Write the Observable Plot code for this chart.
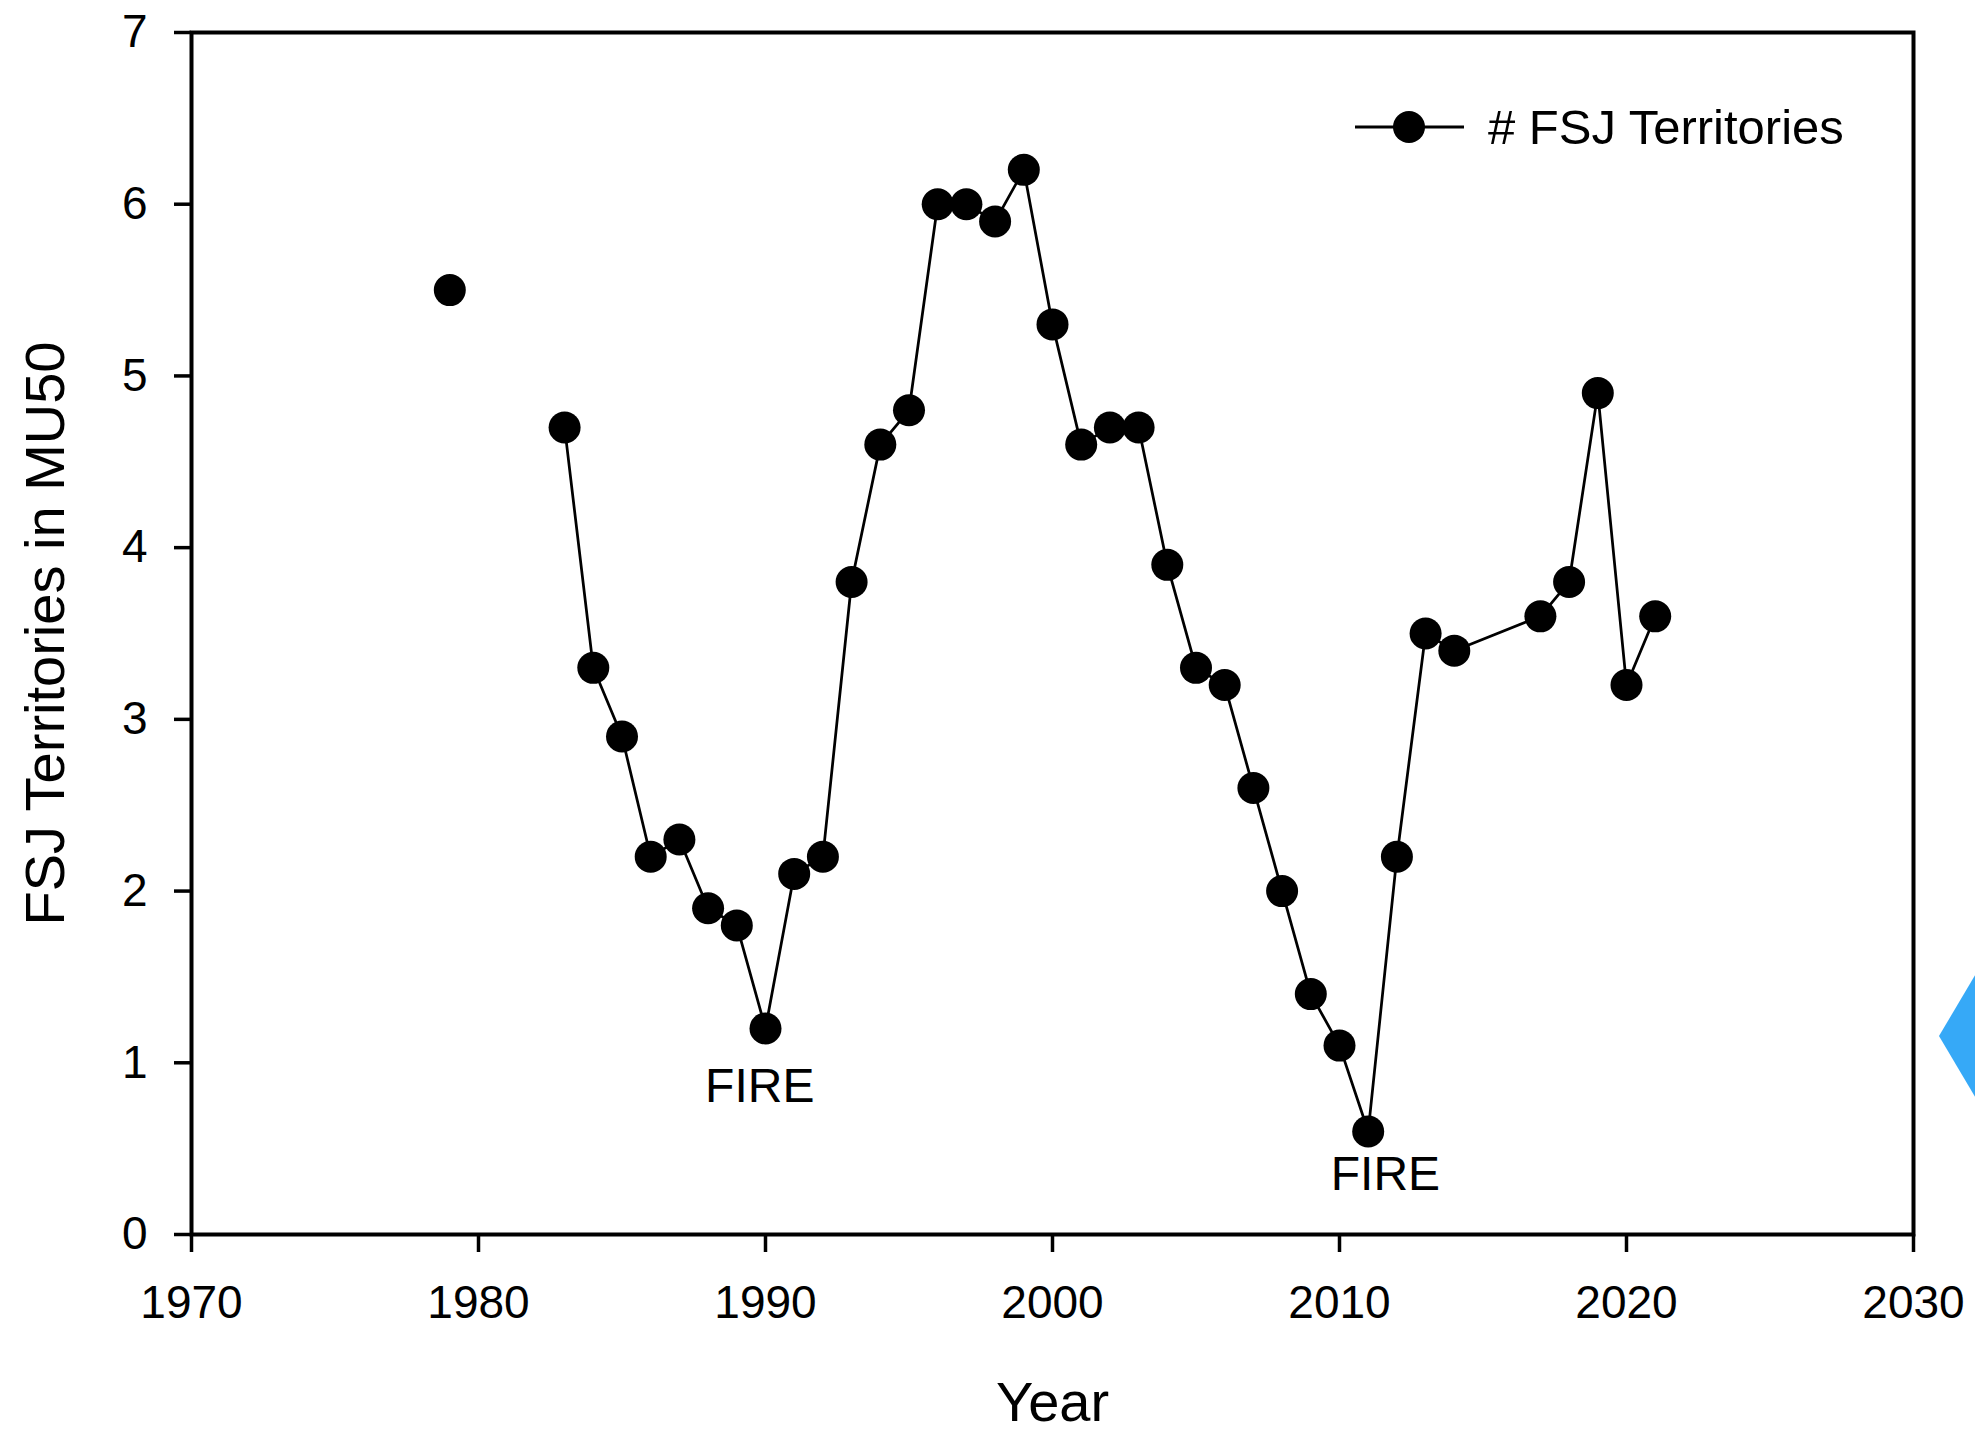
<!DOCTYPE html>
<html>
<head>
<meta charset="utf-8">
<script src="https://cdn.jsdelivr.net/npm/d3@7"></script>
<script src="https://cdn.jsdelivr.net/npm/@observablehq/plot@0.6"></script>
<style>
  html, body { margin: 0; padding: 0; background: #fff; overflow: hidden; }
  #wrap { position: relative; width: 1975px; height: 1431px; font-family: "Liberation Sans", Arial, sans-serif; color: #000; }
  #chart { position: absolute; left: 0; top: 0; }
  #legend { position: absolute; left: 1347px; top: 95px; height: 64px; display: flex; align-items: center; }
  #legend span { font-size: 49px; margin-left: 16px; white-space: nowrap; }
  #deco { position: absolute; left: 0; top: 0; pointer-events: none; }
</style>
</head>
<body>
<div id="wrap">
  <div id="chart"></div>
  <div id="legend">
    <svg width="125" height="64"><line x1="8" x2="117" y1="32" y2="32" stroke="#000" stroke-width="3"/><circle cx="62" cy="32" r="16" fill="#000"/></svg>
    <span># FSJ Territories</span>
  </div>
  <svg id="deco" width="1975" height="1431"><polygon points="1939,1036 1990,950 2041,1036 1990,1122" fill="#36A9F7"/></svg>
</div>
<script>
// ---- data ----
const years = [1979, 1983, 1984, 1985, 1986, 1987, 1988, 1989, 1990, 1991, 1992, 1993, 1994, 1995, 1996, 1997, 1998, 1999, 2000, 2001, 2002, 2003, 2004, 2005, 2006, 2007, 2008, 2009, 2010, 2011, 2012, 2013, 2014, 2017, 2018, 2019, 2020, 2021];
const territories = [5.5, 4.7, 3.3, 2.9, 2.2, 2.3, 1.9, 1.8, 1.2, 2.1, 2.2, 3.8, 4.6, 4.8, 6.0, 6.0, 5.9, 6.2, 5.3, 4.6, 4.7, 4.7, 3.9, 3.3, 3.2, 2.6, 2.0, 1.4, 1.1, 0.6, 2.2, 3.5, 3.4, 3.6, 3.8, 4.9, 3.2, 3.6];
const firstConnectedYear = 1983; // 1979 stands alone (no line to 1983)
const xTicks = [1970, 1980, 1990, 2000, 2010, 2020, 2030];
const yTicks = [0, 1, 2, 3, 4, 5, 6, 7];
const noteText = ["FIRE", "FIRE"];
const noteX = [1989.8, 2011.6];
const noteY = [0.86, 0.35];
const xLabel = "Year";
const yLabel = "FSJ Territories in MU50";

const data = years.map((year, i) => ({year, value: territories[i]}));
const lineData = data.filter(d => d.year >= firstConnectedYear);
const notes = noteText.map((t, i) => ({text: t, x: noteX[i], y: noteY[i]}));

const chart = Plot.plot({
  width: 1975,
  height: 1431,
  marginLeft: 191,
  marginRight: 62,
  marginTop: 32,
  marginBottom: 197,
  style: {fontFamily: "'Liberation Sans', Arial, sans-serif", color: "#000", background: "transparent"},
  x: {domain: [1970, 2030]},
  y: {domain: [0, 7]},
  marks: [
    Plot.axisX({ticks: xTicks, tickFormat: "d", tickSize: 18, tickPadding: 33, fontSize: 46, strokeWidth: 3.5, label: null}),
    Plot.axisY({ticks: yTicks, tickFormat: "d", tickSize: 17, tickPadding: 27, fontSize: 46, strokeWidth: 3.5, label: null}),
    Plot.frame({stroke: "#000", strokeWidth: 4}),
    Plot.text([xLabel], {text: d => d, frameAnchor: "bottom", dy: 186, lineAnchor: "bottom", fontSize: 56, fill: "#000"}),
    Plot.text([yLabel], {text: d => d, frameAnchor: "left", textAnchor: "middle", rotate: -90, dx: -128, lineAnchor: "bottom", fontSize: 56, fill: "#000"}),
    Plot.line(lineData, {x: "year", y: "value", stroke: "#000", strokeWidth: 2.75}),
    Plot.dot(data, {x: "year", y: "value", r: 16, fill: "#000", stroke: "none"}),
    Plot.text(notes, {x: "x", y: "y", text: "text", fontSize: 48, fill: "#000", lineAnchor: "middle"})
  ]
});
document.getElementById("chart").appendChild(chart);
</script>
</body>
</html>
